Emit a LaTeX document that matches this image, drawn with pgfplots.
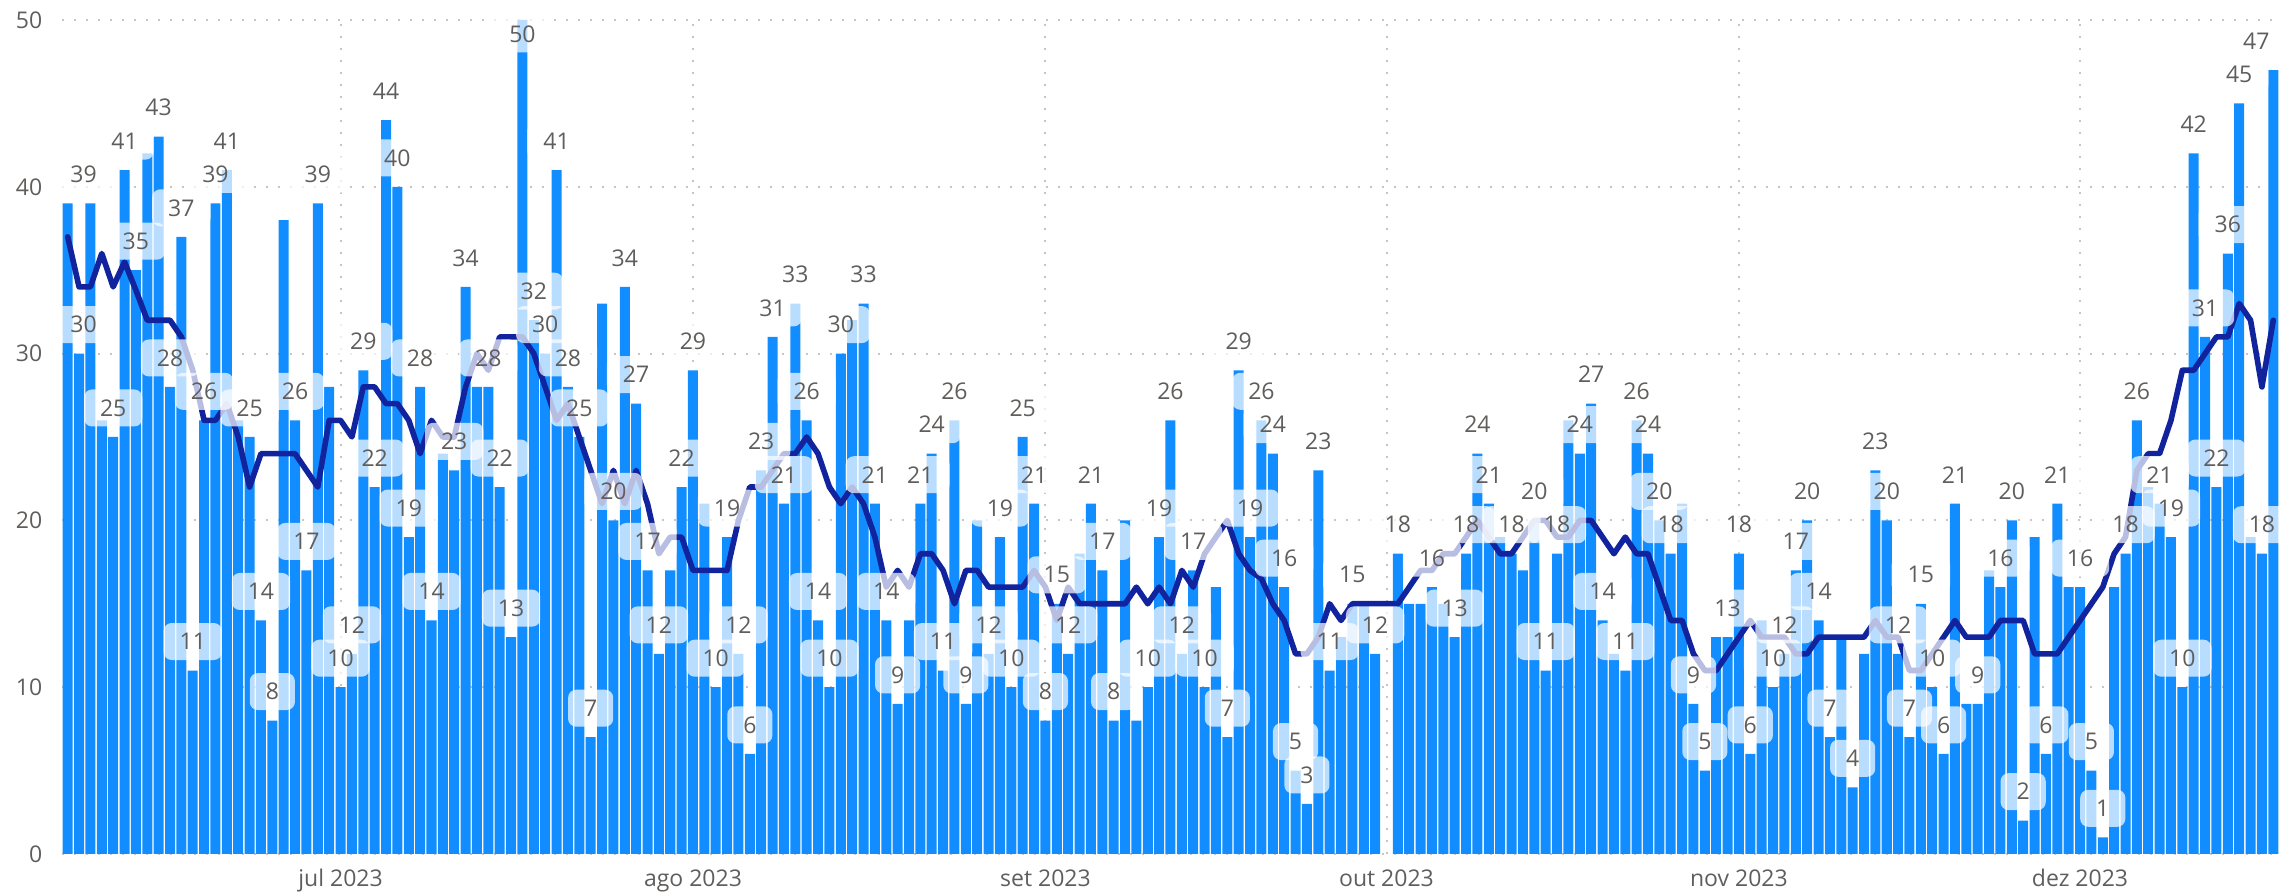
\documentclass[border=0pt]{standalone}
\usepackage{fontspec}
\setmainfont{Open Sans}
\usepackage{pgfplots}
\pgfplotsset{compat=1.18}
\usepackage{pgfplotstable}
\definecolor{barblue}{HTML}{118DFF}
\definecolor{lineblue}{HTML}{12239E}
\definecolor{gridgray}{HTML}{C8C6C4}
\definecolor{textgray}{HTML}{605E5C}

\pgfplotstableread{
x y
0 39
1 30
2 39
3 26
4 25
5 41
6 35
7 42
8 43
9 28
10 37
11 11
12 26
13 39
14 41
15 26
16 25
17 14
18 8
19 38
20 26
21 17
22 39
23 28
24 10
25 12
26 29
27 22
28 44
29 40
30 19
31 28
32 14
33 24
34 23
35 34
36 28
37 28
38 22
39 13
40 50
41 32
42 30
43 41
44 28
45 25
46 7
47 33
48 20
49 34
50 27
51 17
52 12
53 17
54 22
55 29
56 21
57 10
58 19
59 12
60 6
61 23
62 31
63 21
64 33
65 26
66 14
67 10
68 30
69 32
70 33
71 21
72 14
73 9
74 14
75 21
76 24
77 11
78 26
79 9
80 20
81 12
82 19
83 10
84 25
85 21
86 8
87 15
88 12
89 18
90 21
91 17
92 8
93 20
94 8
95 10
96 19
97 26
98 12
99 17
100 10
101 16
102 7
103 29
104 19
105 26
106 24
107 16
108 5
109 3
110 23
111 11
112 13
113 15
114 15
115 12
117 18
118 15
119 15
120 16
121 15
122 13
123 18
124 24
125 21
126 19
127 18
128 17
129 20
130 11
131 18
132 26
133 24
134 27
135 14
136 12
137 11
138 26
139 24
140 20
141 18
142 21
143 9
144 5
145 13
146 13
147 18
148 6
149 14
150 10
151 12
152 17
153 20
154 14
155 7
156 13
157 4
158 12
159 23
160 20
161 12
162 7
163 15
164 10
165 6
166 21
167 9
168 9
169 17
170 16
171 20
172 2
173 19
174 6
175 21
176 16
177 16
178 5
179 1
180 16
181 18
182 26
183 22
184 21
185 19
186 10
187 42
188 31
189 22
190 36
191 45
192 19
193 18
194 47
}\bars

\pgfplotstableread{
x y
0 37
1 34
2 34
3 36
4 34
5 35.5
6 33.8
7 32
8 32
9 32
10 31
11 29
12 26
13 26
14 27
15 25
16 22
17 24
18 24
19 24
20 24
21 23
22 22
23 26
24 26
25 25
26 28
27 28
28 27
29 27
30 26
31 24
32 26
33 25
34 25
35 28
36 30
37 29
38 31
39 31
40 31
41 30
42 28
43 26
44 27
45 25
46 23
47 21
48 23
49 21
50 23
51 21
52 18
53 19
54 19
55 17
56 17
57 17
58 17
59 20
60 22
61 22
62 23
63 24
64 24
65 25
66 24
67 22
68 21
69 22
70 21
71 19
72 16
73 17
74 16
75 18
76 18
77 17
78 15
79 17
80 17
81 16
82 16
83 16
84 16
85 17
86 16
87 14
88 16
89 15
90 15
91 15
92 15
93 15
94 16
95 15
96 16
97 15
98 17
99 16
100 18
101 19
102 20
103 18
104 17
105 16.5
106 15
107 14
108 12
109 12
110 13
111 15
112 14
113 15
114 15
115 15
116 15
117 15
118 16
119 17
120 17
121 18
122 18
123 19
124 20
125 19
126 18
127 18
128 19
129 20
130 20
131 19
132 19
133 20
134 20
135 19
136 18
137 19
138 18
139 18
140 16
141 14
142 14
143 12
144 11
145 11
146 12
147 13
148 14
149 13
150 13
151 13
152 12
153 12
154 13
155 13
156 13
157 13
158 13
159 14
160 13
161 13
162 11
163 11
164 12
165 13
166 14
167 13
168 13
169 13
170 14
171 14
172 14
173 12
174 12
175 12
176 13
177 14
178 15
179 16
180 18
181 19
182 23
183 24
184 24
185 26
186 29
187 29
188 30
189 31
190 31
191 33
192 32
193 28
194 32
}\avg

\pgfplotstableread{
x y
1.4 39
1.4 30
4 25
5 41
6 35
8 43
9 28
10 37
11 11
12 26
13 39
14 41
16 25
17 14
18 8
20 26
21 17
22 39
24 10
25 12
26 29
27 22
28 44
29 40
30 19
31 28
32 14
34 23
35 34
37 28
38 22
39 13
41 32
42 30
43 41
44 28
45 25
46 7
48 20
49 34
50 27
51 17
52 12
54 22
55 29
57 10
58 19
59 12
60 6
61 23
62 31
63 21
64 33
65 26
66 14
67 10
68 30
70 33
71 21
72 14
73 9
75 21
76 24
77 11
78 26
79 9
81 12
82 19
83 10
84 25
85 21
86 8
87 15
88 12
90 21
91 17
92 8
95 10
96 19
97 26
98 12
99 17
100 10
102 7
103 29
104 19
105 26
106 24
107 16
108 5
109 3
110 23
111 11
113 15
115 12
117 18
120 16
122 13
123 18
124 24
125 21
127 18
129 20
130 11
131 18
133 24
134 27
135 14
137 11
138 26
139 24
140 20
141 18
143 9
144 5
146 13
147 18
148 6
150 10
151 12
152 17
153 20
154 14
155 7
157 4
159 23
160 20
161 12
162 7
163 15
164 10
165 6
166 21
168 9
170 16
171 20
172 2
174 6
175 21
177 16
178 5
179 1
181 18
182 26
184 21
185 19
186 10
187 42
188 31
189 22
190 36
191 45
193 18
192.5 47
}\labs

\begin{document}
\begin{tikzpicture}
\path[use as bounding box] (-31pt,-19pt) rectangle (1114.5pt,427pt);
\begin{axis}[
  at={(0,0)}, anchor=south west,
  width=1108.5pt, height=417pt, scale only axis,
  xmin=-0.5, xmax=194.5, ymin=0, ymax=50,
  clip=false,
  axis line style={draw=none},
  tick style={draw=none},
  major tick length=0pt,
  ytick={0,10,20,30,40,50},
  xtick={24,55,86,116,147,177},
  xticklabels={jul 2023, ago 2023, set 2023, out 2023, nov 2023, dez 2023},
  xmajorgrids, ymajorgrids,
  major grid style={draw=gridgray, line width=1pt, dash pattern=on 1pt off 5pt},
  ticklabel style={font=\fontsize{11.5}{13}\selectfont, text=textgray},
  yticklabel style={anchor=east, inner sep=0pt, xshift=-9.7pt},
  xticklabel style={anchor=base, inner sep=0pt, yshift=-16.5pt},
  /pgf/number format/assume math mode=true,
  nodes near coords style={anchor=center, fill=white, fill opacity=0.7, text opacity=1,
     text=textgray, rounded corners=4pt, inner xsep=8pt, inner ysep=0pt,
     minimum height=18.5pt, font=\fontsize{11.5}{13}\selectfont},
]
\addplot[ybar, bar width=0.88, fill=barblue, draw=none] table[x=x,y=y]{\bars};
\addplot[lineblue, line width=2.8pt, line join=round, line cap=round, mark=none] table[x=x,y=y]{\avg};
\addplot[draw=none, mark=none, nodes near coords, point meta=y,
   nodes near coords style={yshift=14.5pt}] table[x=x,y=y]{\labs};
\addplot[draw=none, mark=none, nodes near coords, point meta=y,
   nodes near coords style={yshift=-7pt}] coordinates {(40,50)};
\end{axis}
\end{tikzpicture}
\end{document}
